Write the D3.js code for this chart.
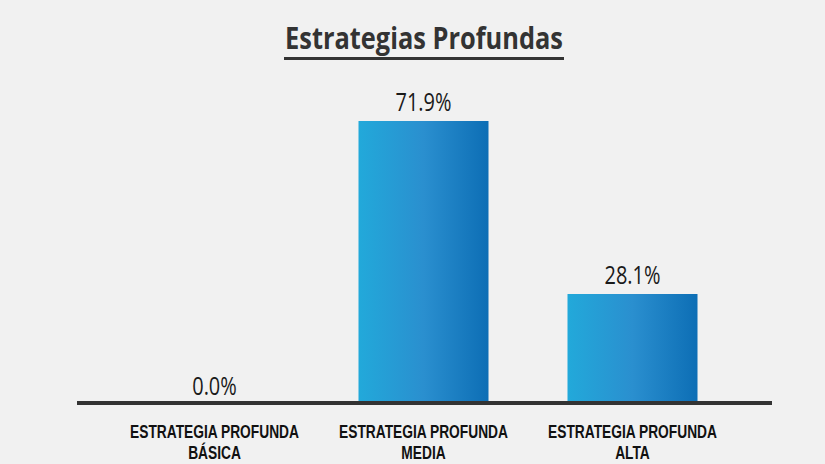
<!DOCTYPE html>
<html>
<head>
<meta charset="utf-8">
<title>Estrategias Profundas</title>
<script src="https://d3js.org/d3.v7.min.js"></script>
<style>
  html, body { margin: 0; padding: 0; background: #f1f1f1; }
  svg { display: block; }
  text { font-family: "Open Sans", "DejaVu Sans", sans-serif; }
  text.cat { font-family: "Liberation Sans", Arial, sans-serif; }
</style>
</head>
<body>
<script>
const title = "Estrategias Profundas";
const categories = ["ESTRATEGIA PROFUNDA|BÁSICA", "ESTRATEGIA PROFUNDA|MEDIA", "ESTRATEGIA PROFUNDA|ALTA"];
const values = [0.0, 71.9, 28.1];
const valueLabels = ["0.0%", "71.9%", "28.1%"];

const w = 825, h = 464;

const svg = d3.select("body").append("svg")
  .attr("width", w)
  .attr("height", h);

svg.append("rect").attr("width", w).attr("height", h).attr("fill", "#f1f1f1");

const grad = svg.append("defs").append("linearGradient")
  .attr("id", "barGrad")
  .attr("x1", "0%").attr("x2", "100%").attr("y1", "0%").attr("y2", "0%");
grad.append("stop").attr("offset", "0%").attr("stop-color", "#22a9da");
grad.append("stop").attr("offset", "50%").attr("stop-color", "#2a8fcf");
grad.append("stop").attr("offset", "100%").attr("stop-color", "#0d6eb5");

const x = d3.scaleBand()
  .domain(categories)
  .range([110, 737])
  .paddingInner(0.378)
  .paddingOuter(0.189);

const y = d3.scaleLinear()
  .domain([0, 100])
  .range([405, 10]);

// the reference uses a condensed face, so text gets squeezed horizontally
const t = svg.append("text")
  .attr("text-anchor", "middle")
  .attr("font-size", 29.5)
  .attr("font-weight", 700)
  .attr("fill", "#333")
  .text(title);
const tk = 278 / t.node().getComputedTextLength();
t.attr("transform", `translate(424,49) scale(${tk},1)`);

svg.append("rect")
  .attr("x", 284)
  .attr("y", 57)
  .attr("width", 280)
  .attr("height", 3)
  .attr("fill", "#333");

// bars
svg.selectAll(".bar")
  .data(values)
  .join("rect")
  .attr("class", "bar")
  .attr("x", (d, i) => x(categories[i]))
  .attr("y", d => y(d))
  .attr("width", x.bandwidth())
  .attr("height", d => y(0) - y(d))
  .attr("fill", "url(#barGrad)");

// value labels
const vals = svg.selectAll(".val")
  .data(values)
  .join("text")
  .attr("class", "val")
  .attr("text-anchor", "middle")
  .attr("font-size", 25)
  .attr("font-weight", 400)
  .attr("fill", "#1a1a1a")
  .text((d, i) => valueLabels[i]);
const vk = 56 / vals.filter((d, i) => i === 1).node().getComputedTextLength();
vals.attr("transform", (d, i) =>
  `translate(${x(categories[i]) + x.bandwidth() / 2},${y(d) - 10}) scale(${vk},1)`);

// axis
const xAxis = d3.axisBottom(x).tickSize(0).tickFormat("");
const ax = svg.append("g")
  .attr("transform", "translate(0,403)")
  .call(xAxis);
ax.select(".domain")
  .attr("d", "M77,0H772")
  .attr("stroke", "#333")
  .attr("stroke-width", 4);

// category labels, two lines in one text
let ck = null;
ax.selectAll(".tick").each(function(d) {
  const g = d3.select(this);
  g.select("text").remove();
  const tx = g.append("text")
    .attr("class", "cat")
    .attr("text-anchor", "middle")
    .attr("font-size", 19)
    .attr("font-weight", 700)
    .attr("fill", "#111");
  d.split("|").forEach((l, k) => {
    tx.append("tspan").attr("x", 0).attr("y", k * 22).text(l);
  });
  if (ck === null) ck = 169 / tx.select("tspan").node().getComputedTextLength();
  tx.attr("transform", `translate(0,34.5) scale(${ck},1)`);
});
</script>
</body>
</html>
